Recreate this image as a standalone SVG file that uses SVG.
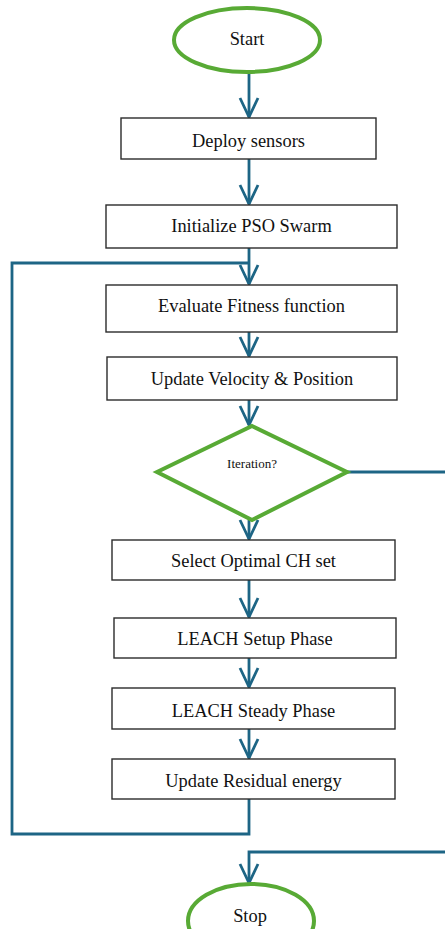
<svg xmlns="http://www.w3.org/2000/svg" width="445" height="929" viewBox="0 0 445 929">
  <style>
    .box { fill: #ffffff; stroke: #2b2b2b; stroke-width: 1.4; }
    .term { fill: #ffffff; stroke: #58aa35; stroke-width: 4; }
    .lbl { font-family: "Liberation Serif", "Times New Roman", serif; font-size: 18.4px; fill: #111111; text-anchor: middle; }
    .small { font-size: 13px; }
    .wire { fill: none; stroke: #1d6585; stroke-width: 2.8; stroke-linejoin: miter; }
  </style>
  <defs>
    <marker id="vhead" markerUnits="userSpaceOnUse" orient="auto" refX="0" refY="0" markerWidth="30" markerHeight="30" overflow="visible">
      <path d="M-19,-9 L0,0 L-19,9" fill="none" stroke="#1d6585" stroke-width="2.8"/>
    </marker>
  </defs>

  <!-- connectors -->
  <g id="connectors">
    <path class="wire" d="M249,72 V117" marker-end="url(#vhead)"/>
    <path class="wire" d="M249,159 V204" marker-end="url(#vhead)"/>
    <path class="wire" d="M249,248 V284" marker-end="url(#vhead)"/>
    <path class="wire" d="M249,332 V356" marker-end="url(#vhead)"/>
    <path class="wire" d="M249,400 V425" marker-end="url(#vhead)"/>
    <path class="wire" d="M249,520 V539" marker-end="url(#vhead)"/>
    <path class="wire" d="M249,580 V617" marker-end="url(#vhead)"/>
    <path class="wire" d="M249,658 V687" marker-end="url(#vhead)"/>
    <path class="wire" d="M249,729 V758" marker-end="url(#vhead)"/>
    <!-- feedback loop back to fitness evaluation -->
    <path class="wire" d="M249,799 V834 H12 V263 H249"/>
    <!-- exit branch from the iteration check -->
    <path class="wire" d="M347,472 H445"/>
    <path class="wire" d="M445,852 H249 V883" marker-end="url(#vhead)"/>
  </g>

  <g id="start">
    <ellipse class="term" cx="247" cy="40" rx="73" ry="32"/>
    <text class="lbl" x="247" y="45">Start</text>
  </g>
  <g id="deploy">
    <rect class="box" x="121" y="118" width="255" height="41"/>
    <text class="lbl" x="248.5" y="147">Deploy sensors</text>
  </g>
  <g id="init-pso">
    <rect class="box" x="106" y="205" width="291" height="43"/>
    <text class="lbl" x="251.5" y="232">Initialize PSO Swarm</text>
  </g>
  <g id="fitness">
    <rect class="box" x="106" y="285" width="291" height="47"/>
    <text class="lbl" x="251.5" y="312">Evaluate Fitness function</text>
  </g>
  <g id="update-vp">
    <rect class="box" x="107" y="357" width="290" height="43"/>
    <text class="lbl" x="252" y="385">Update Velocity &amp; Position</text>
  </g>
  <g id="iteration">
    <polygon class="term" points="252,426 347,472 252,520 157,472"/>
    <text class="lbl small" x="252" y="468">Iteration?</text>
  </g>
  <g id="select-ch">
    <rect class="box" x="112" y="540" width="283" height="40"/>
    <text class="lbl" x="253.5" y="567">Select Optimal CH set</text>
  </g>
  <g id="leach-setup">
    <rect class="box" x="114" y="618" width="282" height="40"/>
    <text class="lbl" x="255" y="645">LEACH Setup Phase</text>
  </g>
  <g id="leach-steady">
    <rect class="box" x="112" y="688" width="283" height="41"/>
    <text class="lbl" x="253.5" y="717">LEACH Steady Phase</text>
  </g>
  <g id="residual">
    <rect class="box" x="112" y="759" width="283" height="40"/>
    <text class="lbl" x="253.5" y="787">Update Residual energy</text>
  </g>
  <g id="stop">
    <ellipse class="term" cx="251" cy="921" rx="63" ry="37"/>
    <text class="lbl" x="250" y="922">Stop</text>
  </g>
</svg>
